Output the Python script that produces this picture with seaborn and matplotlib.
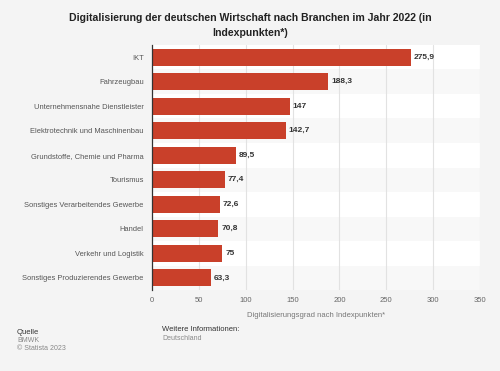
import numpy as np
import pandas as pd
import matplotlib
matplotlib.use('Agg')
import matplotlib.pyplot as plt
import seaborn as sns

# Data
BRANCHES = ['IKT', 'Fahrzeugbau', 'Unternehmensnahe Dienstleister',
            'Elektrotechnik und Maschinenbau', 'Grundstoffe, Chemie und Pharma',
            'Tourismus', 'Sonstiges Verarbeitendes Gewerbe', 'Handel',
            'Verkehr und Logistik', 'Sonstiges Produzierendes Gewerbe']
VALUES = [275.9, 188.3, 147, 142.7, 89.5, 77.4, 72.6, 70.8, 75, 63.3]
XTICKS = [0, 50, 100, 150, 200, 250, 300, 350]

sns.set_theme(style='white')
plt.rcParams['font.family'] = ['Liberation Sans', 'DejaVu Sans']

BG = '#f4f4f4'
BAR = '#c9402a'

fig = plt.figure(figsize=(5.0, 3.71), dpi=100, facecolor=BG)
ax = fig.add_axes([0.304, 0.218, 0.656, 0.661])
ax.set_facecolor('white')

df = pd.DataFrame({'branch': BRANCHES, 'value': VALUES})

# alternating row bands
for i in range(len(BRANCHES)):
    ax.axhspan(i - 0.5, i + 0.5, color='white' if i % 2 == 0 else '#f8f8f8', zorder=0, lw=0)

sns.barplot(data=df, x='value', y='branch', orient='h', color=BAR,
            width=0.7, ax=ax, zorder=3, saturation=1, linewidth=0)

for i, v in enumerate(VALUES):
    label = f'{v:g}'.replace('.', ',')
    ax.text(v + 3, i, label, va='center', ha='left', fontsize=6,
            fontweight='bold', color='#333333', zorder=4)

ax.set_xlim(0, 350)
ax.set_ylim(len(BRANCHES) - 0.5, -0.5)
ax.set_xticks(XTICKS)
ax.set_xticklabels([str(t) for t in XTICKS], fontsize=5.5, color='#666666')
ax.tick_params(axis='y', labelsize=5.4, labelcolor='#555555', length=0, pad=6)
ax.tick_params(axis='x', length=0, pad=5)
for t in XTICKS[1:]:
    ax.axvline(t, color='#e2e2e2', lw=0.8, zorder=1)
ax.set_ylabel('')
ax.set_xlabel('Digitalisierungsgrad nach Indexpunkten*', fontsize=5.5, color='#777777', labelpad=6)
for s in ['top', 'right', 'bottom']:
    ax.spines[s].set_visible(False)
ax.spines['left'].set_color('#333333')
ax.spines['left'].set_linewidth(0.9)
ax.spines['left'].set_zorder(5)

fig.text(0.5, 0.965, 'Digitalisierung der deutschen Wirtschaft nach Branchen im Jahr 2022 (in\nIndexpunkten*)',
         ha='center', va='top', fontsize=7.6, fontweight='bold', color='#222222', linespacing=1.6)

fig.text(0.034, 0.105, 'Quelle', fontsize=5.5, color='#333333', va='center')
fig.text(0.034, 0.082, 'BMWK', fontsize=5, color='#888888', va='center')
fig.text(0.034, 0.060, '© Statista 2023', fontsize=5, color='#888888', va='center')
fig.text(0.324, 0.112, 'Weitere Informationen:', fontsize=5.5, color='#333333', va='center')
fig.text(0.324, 0.088, 'Deutschland', fontsize=5, color='#888888', va='center')

fig.savefig('out.png', dpi=100, facecolor=BG)
